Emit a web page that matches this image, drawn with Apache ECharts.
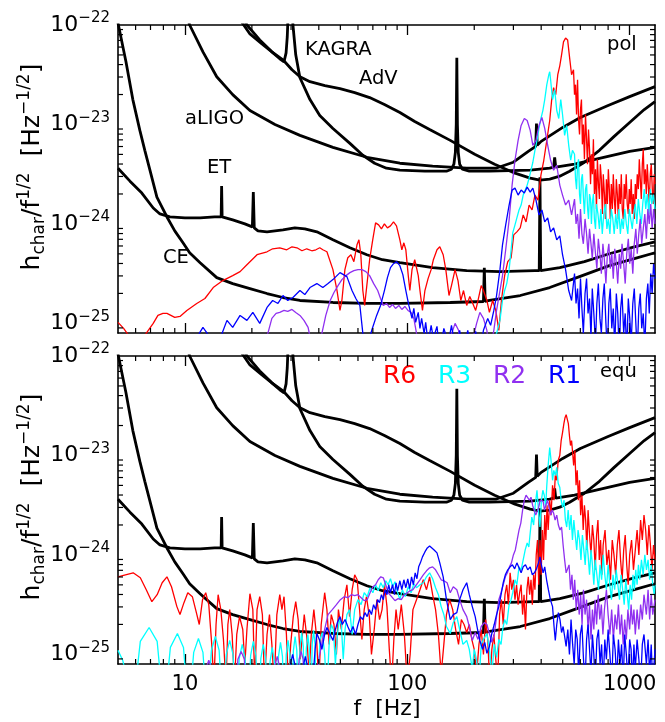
<!DOCTYPE html>
<html>
<head>
<meta charset="utf-8">
<script src="https://cdn.jsdelivr.net/npm/echarts@6/dist/echarts.min.js"></script>
<style>
html, body { margin: 0; padding: 0; background: #fff; }
#chart { width: 665px; height: 722px; }
</style>
</head>
<body>
<div id="chart"></div>
<script>
// Each point is [frequency in Hz, log10 of h_char/f^(1/2) in Hz^(-1/2)].

// Detector noise curves (same in both panels)
const ceCurve = [[5.0,-21.98],[5.43,-22.37],[5.83,-22.75],[6.27,-23.06],[6.6,-23.26],[6.96,-23.46],[7.48,-23.73],[8.3,-23.93],[9.0,-24.07],[9.8,-24.19],[10.5,-24.29],[11.7,-24.39],[13.9,-24.54],[16.4,-24.60],[19.6,-24.65],[23.4,-24.70],[27.6,-24.74],[32.9,-24.77],[46.3,-24.79],[65.8,-24.80],[92.6,-24.80],[156,-24.79],[220,-24.78],[222,-24.44],[224,-24.78],[234,-24.77],[322,-24.72],[437,-24.64],[595,-24.53],[810,-24.42],[1049,-24.35],[1300,-24.29]];
const etCurve = [[5.0,-23.44],[5.66,-23.57],[6.4,-23.69],[7.2,-23.84],[7.72,-23.90],[8.56,-23.93],[10,-23.94],[11.7,-23.94],[13.6,-23.93],[14.55,-23.93],[14.62,-23.62],[14.7,-23.93],[16.4,-23.96],[18.6,-24.0],[20.1,-24.03],[20.3,-23.68],[20.5,-24.04],[21.3,-24.07],[23.4,-24.08],[27.6,-24.06],[31.2,-24.04],[34.6,-24.05],[39.2,-24.08],[46.3,-24.16],[55.2,-24.24],[65.8,-24.31],[77.3,-24.36],[92.6,-24.39],[130,-24.44],[185,-24.47],[261,-24.48],[375,-24.47],[392,-24.47],[395,-23.53],[398,-24.47],[485,-24.44],[626,-24.38],[810,-24.30],[1049,-24.23],[1300,-24.18]];
const aligoCurve = [[9.9,-21.8],[10.5,-22.0],[12.05,-22.27],[13.9,-22.52],[16.4,-22.70],[19.6,-22.86],[25.4,-23.00],[32.9,-23.11],[46.3,-23.23],[65.8,-23.33],[92.6,-23.39],[130,-23.42],[185,-23.44],[250,-23.44],[300,-23.38],[350,-23.27],[378,-23.22],[381,-22.99],[384,-23.21],[400,-23.17],[500,-23.03],[600,-22.93],[800,-22.81],[1000,-22.72],[1300,-22.62]];
const kagraCurve = [[18.5,-21.95],[19.0,-22.0],[21.7,-22.15],[24.6,-22.27],[26.7,-22.34],[27.9,-22.37],[28.5,-22.28],[28.85,-22.12],[29.05,-21.95],[29.3,-21.6],[30.2,-21.8],[30.6,-22.0],[31.5,-22.3],[32.9,-22.53],[36.5,-22.75],[40.4,-22.91],[46.3,-23.04],[55.2,-23.19],[63.1,-23.31],[71.3,-23.39],[80.6,-23.44],[92.6,-23.46],[120,-23.47],[150,-23.47],[158,-23.45],[162,-23.40],[164.5,-23.28],[166,-23.0],[167,-22.33],[168,-23.0],[169.5,-23.28],[172,-23.40],[177,-23.45],[190,-23.47],[234,-23.47],[357,-23.46],[437,-23.44],[455,-23.43],[460,-23.33],[465,-23.43],[565,-23.40],[731,-23.34],[1000,-23.27],[1300,-23.23]];
const advCurve = [[18.0,-21.97],[19.6,-22.09],[22.2,-22.19],[24.6,-22.27],[27.6,-22.35],[30.3,-22.45],[32.9,-22.52],[36.5,-22.57],[42.6,-22.61],[49.8,-22.64],[58,-22.68],[67.7,-22.73],[78.9,-22.80],[92.6,-22.88],[108,-22.97],[126,-23.05],[156,-23.16],[201,-23.30],[247,-23.40],[305,-23.49],[357,-23.54],[395,-23.56],[437,-23.55],[485,-23.52],[537,-23.47],[626,-23.38],[731,-23.26],[852,-23.12],[1000,-22.98],[1163,-22.85],[1300,-22.77]];

// Polar ("pol") spectra
const r6Pol = [[5.0,-24.99],[5.3,-25.05],[5.7,-25.15],[6.1,-25.35],[6.6,-25.12],[7.2,-25.0],[7.56,-24.92],[7.96,-24.90],[8.3,-24.90],[9.0,-24.94],[9.5,-24.93],[10.2,-24.87],[11.3,-24.80],[12.3,-24.75],[13.4,-24.64],[14.8,-24.57],[16.4,-24.52],[17.7,-24.48],[19.0,-24.41],[21.1,-24.31],[23.4,-24.28],[24.8,-24.25],[26.7,-24.24],[28.7,-24.26],[30.3,-24.23],[31.9,-24.24],[33.6,-24.27],[35.3,-24.25],[37.2,-24.27],[38.8,-24.26],[40.4,-24.24],[41.7,-24.26],[43.5,-24.28],[46.3,-24.46],[48.3,-24.67],[49.8,-24.87],[50.8,-24.77],[52.4,-24.46],[54.0,-24.34],[55.8,-24.31],[57.5,-24.38],[59.4,-24.21],[60.6,-24.16],[61.8,-24.31],[63.1,-24.67],[64.3,-24.82],[67.7,-24.36],[69.9,-24.16],[72,-23.99],[74.3,-24.01],[76.5,-24.05],[78.9,-24.00],[81.4,-24.04],[84,-24.02],[86.7,-23.98],[89.4,-24.02],[92.6,-24.16],[94.5,-24.26],[96.5,-24.19],[98.5,-24.26],[101,-24.52],[102.7,-24.67],[105,-24.46],[108,-24.36],[112,-24.52],[114,-24.67],[117,-24.87],[120,-24.67],[124,-24.55],[128,-24.46],[131,-24.36],[136,-24.26],[140,-24.23],[145,-24.31],[149,-24.46],[154,-24.72],[158,-24.62],[164,-24.46],[169,-24.57],[174,-24.77],[179,-24.67],[185,-24.82],[191,-24.73],[197,-24.80],[203,-24.87],[208,-24.77],[215,-24.62],[220,-24.67],[228,-24.77],[234,-24.89],[242,-24.77],[250,-24.87],[258,-25.07],[265,-24.77],[274,-24.52],[283,-24.38],[293,-24.34],[301,-24.11],[311,-24.08],[322,-24.04],[332,-23.91],[342,-23.98],[353,-23.81],[364,-23.86],[375,-23.71],[387,-23.76],[399,-23.51],[411,-23.36],[424,-23.16],[437,-22.96],[446,-22.75],[455,-22.63],[465,-22.70],[475,-22.50],[485,-22.41],[494,-22.30],[504,-22.17],[515,-22.13],[526,-22.15],[537,-22.33],[548,-22.50],[559,-22.45],[565,-22.7],[571,-22.6],[577,-22.9],[583,-22.55],[589,-22.95],[595,-23.1],[601,-22.85],[607,-22.75],[613,-23.2],[619,-23.0],[626,-23.35],[633,-22.9],[640,-23.15],[646,-23.4],[653,-23.05],[660,-23.25],[667,-23.6],[673,-23.3],[680,-23.5],[687,-23.15],[694,-23.7],[702,-23.45],[709,-23.85],[716,-23.35],[724,-23.6],[731,-23.75],[738,-23.4],[746,-23.55],[754,-23.9],[761,-23.5],[770,-23.7],[778,-23.95],[786,-23.55],[794,-23.8],[802,-23.45],[810,-23.65],[818,-23.95],[827,-23.6],[836,-23.85],[844,-23.5],[853,-23.75],[862,-23.9],[871,-23.55],[880,-23.7],[889,-23.95],[898,-23.6],[908,-23.8],[917,-23.5],[926,-23.85],[936,-23.95],[945,-23.6],[955,-23.75],[965,-23.5],[975,-23.8],[986,-23.9],[996,-23.65],[1006,-23.8],[1016,-23.55],[1027,-23.9],[1038,-23.7],[1049,-23.95],[1060,-23.6],[1071,-23.75],[1082,-23.5],[1094,-23.65],[1105,-23.35],[1116,-23.55],[1128,-23.75],[1140,-23.4],[1151,-23.25],[1163,-23.6],[1176,-23.45],[1188,-23.7],[1200,-23.4],[1212,-23.6],[1225,-23.8],[1238,-23.5],[1251,-23.4],[1264,-23.65],[1277,-23.8],[1290,-23.5],[1300,-23.6]];
const r3Pol = [[200,-25.5],[240,-25.3],[247,-25.15],[252,-25.10],[261,-24.97],[268,-24.77],[274,-24.67],[280,-24.60],[287,-24.46],[293,-24.26],[298,-24.09],[305,-24.01],[311,-23.94],[318,-23.86],[325,-23.81],[332,-23.71],[339,-23.66],[346,-23.61],[353,-23.54],[360,-23.46],[367,-23.38],[375,-23.26],[383,-23.16],[391,-23.04],[399,-22.94],[407,-22.86],[415,-22.75],[424,-22.60],[433,-22.50],[437,-22.47],[441,-22.55],[450,-22.75],[460,-22.65],[470,-22.86],[480,-22.94],[490,-22.75],[499,-22.90],[510,-23.11],[521,-23.01],[532,-23.21],[543,-23.36],[553,-23.26],[565,-23.3],[571,-23.55],[577,-23.65],[583,-23.4],[589,-23.35],[595,-23.7],[601,-23.8],[607,-23.55],[613,-23.5],[620,-23.75],[626,-23.9],[633,-23.65],[640,-23.6],[647,-23.85],[653,-23.95],[660,-23.7],[667,-23.75],[673,-24.0],[679,-23.8],[687,-23.7],[694,-23.95],[702,-24.05],[709,-23.8],[720,-23.9],[731,-24.05],[742,-23.85],[753,-24.1],[765,-23.9],[778,-23.8],[790,-24.05],[802,-23.95],[815,-24.1],[827,-23.85],[840,-23.95],[852,-24.1],[866,-23.9],[880,-24.05],[894,-23.85],[908,-24.1],[922,-23.95],[936,-24.05],[951,-23.85],[966,-24.0],[981,-24.1],[996,-23.85],[1011,-23.95],[1027,-24.05],[1043,-23.9],[1060,-23.8],[1077,-24.0],[1094,-23.75],[1111,-23.9],[1128,-24.0],[1145,-23.8],[1163,-23.65],[1181,-23.85],[1200,-23.7],[1219,-23.9],[1238,-23.65],[1257,-23.8],[1277,-23.7],[1300,-23.85]];
const r2Pol = [[22.2,-25.3],[23.6,-25.10],[24.6,-24.95],[25.7,-24.90],[26.7,-24.89],[27.9,-24.87],[29.0,-24.88],[30.3,-24.86],[31.5,-24.89],[32.9,-24.92],[34.3,-24.97],[35.8,-25.04],[37,-25.2],[39.6,-25.3],[41.3,-25.10],[43.0,-24.92],[45,-24.77],[46.8,-24.69],[48.8,-24.62],[50.8,-24.56],[53,-24.52],[55.2,-24.49],[57.5,-24.47],[60,-24.46],[62.5,-24.46],[65.1,-24.48],[67.7,-24.52],[70.6,-24.60],[73.6,-24.67],[75.8,-24.75],[78,-24.82],[80.6,-24.80],[83.2,-24.84],[85.8,-24.81],[88.5,-24.85],[91.6,-24.82],[94.5,-24.86],[97.5,-24.83],[100.7,-24.87],[104,-24.89],[107,-24.95],[110,-25.10],[114,-25.3],[140,-25.3],[156,-25.15],[164,-25.0],[170,-25.07],[177,-25.3],[195,-25.2],[205,-25.0],[212,-24.89],[220,-24.95],[228,-25.07],[234,-25.3],[245,-25.07],[252,-24.87],[261,-24.67],[268,-24.52],[277,-24.26],[287,-23.96],[296,-23.61],[305,-23.36],[315,-23.16],[325,-23.01],[336,-22.94],[346,-22.96],[357,-23.06],[367,-23.21],[379,-23.16],[391,-23.01],[403,-22.93],[415,-23.04],[428,-23.21],[441,-23.36],[455,-23.46],[470,-23.41],[485,-23.61],[499,-23.71],[515,-23.81],[532,-23.76],[548,-23.91],[565,-23.75],[574,-24.0],[583,-23.9],[592,-24.15],[601,-23.85],[610,-24.1],[619,-24.2],[630,-23.95],[640,-24.1],[650,-24.3],[660,-24.05],[670,-24.2],[679,-24.35],[690,-24.1],[702,-24.3],[712,-24.45],[723,-24.15],[735,-24.3],[746,-24.5],[758,-24.2],[769,-24.35],[782,-24.6],[794,-24.3],[806,-24.2],[818,-24.45],[831,-24.3],[844,-24.55],[857,-24.25],[871,-24.4],[884,-24.6],[898,-24.3],[911,-24.45],[924,-24.2],[940,-24.4],[955,-24.6],[970,-24.3],[986,-24.15],[1001,-24.4],[1016,-24.25],[1033,-24.5],[1049,-24.2],[1066,-24.05],[1082,-24.3],[1099,-24.1],[1116,-23.95],[1133,-24.2],[1151,-24.05],[1170,-23.9],[1189,-24.15],[1207,-23.85],[1225,-24.0],[1244,-23.8],[1262,-24.05],[1281,-23.85],[1300,-24.0]];
const r1Pol = [[11.1,-25.3],[11.6,-25.10],[12.05,-25.04],[12.6,-25.10],[13,-25.3],[14.1,-25.3],[14.7,-25.10],[15.45,-24.97],[16.4,-25.04],[17.7,-24.92],[19.0,-24.97],[20.2,-24.89],[21.7,-25.0],[23.4,-24.84],[24.8,-24.77],[26.2,-24.80],[27.6,-24.72],[29,-24.77],[30.6,-24.74],[32.9,-24.67],[34.6,-24.71],[36.5,-24.64],[39.2,-24.60],[41.7,-24.64],[44,-24.60],[46.3,-24.56],[49.8,-24.49],[53.5,-24.53],[56.4,-24.67],[58.7,-24.75],[61.2,-24.82],[63.1,-25.10],[64.3,-25.3],[69.2,-25.07],[72.8,-24.92],[75.8,-24.82],[78.9,-24.67],[81.4,-24.54],[84,-24.44],[86.7,-24.40],[89.4,-24.38],[92.6,-24.42],[95.5,-24.51],[98.5,-24.67],[101.6,-24.82],[105,-24.95],[107,-24.85],[109,-24.99],[112,-24.89],[114,-25.05],[116,-24.95],[119,-25.10],[121,-24.99],[124,-25.2],[128,-25.02],[131,-25.15],[136,-25.03],[140,-25.3],[146,-25.05],[153,-25.2],[158,-25.02],[166,-25.3],[172,-25.07],[179,-25.3],[187,-25.07],[195,-25.3],[203,-25.08],[212,-25.3],[220,-25.07],[230,-24.95],[237,-25.02],[245,-24.87],[252,-24.72],[261,-24.46],[268,-24.21],[277,-24.01],[287,-23.81],[296,-23.66],[305,-23.64],[315,-23.71],[325,-23.66],[336,-23.69],[346,-23.63],[357,-23.68],[367,-23.64],[379,-23.76],[391,-23.91],[403,-23.86],[415,-23.98],[428,-23.94],[441,-24.08],[455,-24.04],[470,-24.16],[485,-24.12],[499,-24.31],[515,-24.46],[532,-24.67],[548,-24.77],[565,-24.5],[574,-24.8],[583,-24.65],[592,-24.95],[601,-24.55],[610,-24.85],[619,-25.1],[630,-24.7],[640,-24.55],[650,-24.9],[660,-24.75],[670,-25.15],[679,-24.65],[690,-24.9],[702,-25.2],[712,-24.8],[723,-24.6],[735,-24.95],[746,-25.1],[758,-24.75],[769,-24.6],[782,-25.0],[794,-25.3],[806,-24.8],[818,-24.65],[831,-25.05],[844,-24.85],[857,-25.25],[871,-24.7],[884,-24.9],[898,-25.3],[911,-24.85],[924,-24.7],[940,-25.1],[955,-24.9],[970,-25.3],[986,-24.75],[1001,-24.95],[1016,-25.2],[1033,-24.8],[1049,-24.65],[1066,-25.0],[1082,-25.3],[1099,-24.85],[1116,-24.7],[1133,-25.05],[1151,-24.9],[1170,-25.25],[1189,-24.75],[1207,-24.6],[1225,-24.9],[1244,-24.5],[1262,-24.7],[1281,-24.4],[1300,-24.55]];

// Equatorial ("equ") spectra
const r6Equ = [[5.0,-24.22],[5.4,-24.20],[5.85,-24.18],[6.3,-24.23],[6.7,-24.35],[7.1,-24.47],[7.5,-24.40],[7.9,-24.28],[8.3,-24.22],[8.7,-24.32],[9.2,-24.52],[9.5,-24.60],[9.9,-24.48],[10.3,-24.38],[10.8,-24.42],[11.2,-24.56],[11.6,-24.70],[12.0,-24.45],[12.4,-24.38],[12.8,-24.50],[13.2,-24.90],[13.5,-25.3],[13.8,-24.70],[14.1,-24.40],[14.5,-24.55],[14.9,-24.85],[15.3,-25.3],[15.6,-24.70],[15.9,-24.55],[16.3,-24.80],[16.7,-25.3],[17.1,-24.8],[17.6,-24.62],[18.2,-24.75],[18.6,-25.1],[19.0,-24.75],[19.6,-24.39],[20.2,-24.55],[20.6,-25.3],[21.1,-24.55],[21.7,-24.42],[22.3,-24.6],[22.8,-25.3],[23.4,-24.8],[24.0,-24.60],[24.6,-24.9],[25.2,-25.3],[25.9,-24.6],[26.7,-24.40],[27.3,-24.55],[27.9,-24.42],[28.6,-24.8],[29.2,-25.3],[29.9,-24.9],[30.7,-24.62],[31.5,-24.47],[32.3,-24.65],[33,-25.05],[33.6,-24.85],[34.4,-24.6],[35.3,-24.82],[36.2,-25.2],[37.0,-24.80],[38,-24.55],[39,-24.8],[40,-25.3],[41,-24.7],[42.5,-24.38],[43.5,-24.55],[44.5,-24.9],[45.5,-24.6],[46.8,-24.70],[48,-25.0],[49,-24.55],[50.5,-24.75],[52,-24.45],[53.5,-24.30],[55,-24.62],[56.5,-24.35],[58,-24.20],[59.5,-24.25],[61,-24.55],[62.5,-24.85],[64,-24.55],[65.5,-24.42],[67.5,-24.62],[69,-25.0],[71,-24.75],[73,-24.45],[75,-24.65],[77,-24.55],[79,-24.30],[81,-24.52],[83,-24.95],[85,-25.3],[87,-24.85],[89,-24.55],[91,-24.75],[94,-24.5],[97,-24.8],[100,-25.3],[103,-25.0],[106,-24.55],[110,-24.45],[114,-24.35],[118,-24.25],[122,-24.35],[126,-24.22],[130,-24.40],[134,-24.55],[138,-24.80],[142,-25.2],[146,-24.9],[150,-24.60],[155,-24.45],[160,-24.55],[165,-24.75],[170,-24.9],[175,-24.65],[180,-24.70],[185,-24.78],[190,-24.7],[195,-24.85],[200,-24.95],[205,-25.2],[210,-24.9],[215,-24.75],[220,-25.0],[225,-24.65],[230,-24.85],[235,-25.3],[240,-24.95],[245,-24.8],[250,-25.05],[255,-25.3],[260,-24.6],[265,-24.45],[270,-24.7],[275,-24.4],[280,-24.3],[285,-24.5],[290,-24.18],[295,-24.35],[300,-24.25],[305,-24.45],[310,-24.3],[315,-24.5],[320,-24.38],[325,-24.3],[330,-24.6],[335,-24.4],[340,-24.75],[345,-24.35],[350,-24.22],[355,-24.4],[360,-24.25],[365,-24.5],[370,-24.2],[375,-24.35],[380,-24.0],[385,-23.85],[390,-24.3],[395,-23.85],[400,-24.2],[405,-23.75],[410,-24.05],[415,-23.6],[420,-23.85],[425,-23.5],[430,-23.75],[437,-23.45],[443,-23.6],[450,-23.3],[457,-23.45],[463,-23.2],[470,-23.25],[477,-23.05],[485,-23.0],[492,-22.85],[499,-22.77],[506,-22.68],[512,-22.62],[518,-22.59],[524,-22.60],[530,-22.68],[536,-22.8],[542,-22.9],[548,-22.85],[553,-22.95],[560,-23.1],[567,-22.95],[574,-23.3],[581,-23.15],[588,-23.45],[595,-23.25],[602,-23.6],[610,-23.4],[618,-23.75],[626,-23.5],[634,-23.65],[642,-23.95],[650,-23.55],[660,-23.8],[670,-24.0],[680,-23.7],[690,-23.85],[700,-24.15],[710,-23.8],[720,-23.65],[730,-24.05],[740,-23.85],[750,-24.2],[760,-23.9],[775,-23.75],[790,-24.1],[805,-23.95],[820,-24.25],[835,-23.85],[850,-24.0],[865,-24.2],[880,-23.9],[895,-23.75],[910,-24.05],[925,-24.25],[940,-23.95],[955,-23.8],[970,-24.1],[985,-24.3],[1000,-24.0],[1020,-23.85],[1040,-24.15],[1060,-23.95],[1080,-23.75],[1100,-24.0],[1120,-23.65],[1140,-23.85],[1160,-23.6],[1180,-23.75],[1200,-24.0],[1220,-23.7],[1240,-23.9],[1260,-24.15],[1280,-23.9],[1300,-24.05]];
const r3Equ = [[5.0,-24.96],[5.25,-25.06],[5.5,-25.25],[5.8,-25.6],[6.3,-24.87],[6.9,-24.73],[7.5,-24.87],[8.05,-25.6],[8.6,-24.93],[9.25,-24.79],[9.85,-24.93],[10.4,-25.6],[10.95,-24.98],[11.5,-24.84],[12.05,-24.98],[12.6,-25.6],[13.15,-24.96],[13.7,-24.82],[14.25,-24.96],[14.8,-25.6],[15.35,-25.0],[15.9,-24.86],[16.45,-25.0],[17.0,-25.6],[17.55,-25.04],[18.1,-24.9],[18.65,-25.04],[19.2,-25.6],[19.75,-25.01],[20.3,-24.87],[20.85,-25.01],[21.4,-25.6],[21.95,-25.04],[22.5,-24.9],[23.05,-25.04],[23.6,-25.6],[24.15,-25.07],[24.7,-24.93],[25.25,-25.07],[25.8,-25.6],[26.35,-25.02],[26.9,-24.88],[27.45,-25.02],[28.0,-25.6],[28.55,-25.0],[29.1,-24.86],[29.65,-25.0],[30.2,-25.6],[30.75,-24.96],[31.3,-24.82],[31.85,-24.96],[32.4,-25.6],[32.95,-24.92],[33.5,-24.78],[34.05,-24.92],[34.6,-25.6],[35.15,-24.94],[35.7,-24.8],[36.25,-24.94],[36.8,-25.6],[37.35,-24.9],[37.9,-24.76],[38.45,-24.9],[39.0,-25.6],[40.5,-24.85],[41.5,-24.78],[42.5,-25.0],[43.5,-25.4],[44.5,-24.9],[45.5,-24.7],[46.5,-24.75],[47.5,-25.1],[48.5,-24.8],[49.5,-24.65],[50.5,-24.7],[51.5,-25.05],[52.5,-24.75],[53.5,-24.6],[55,-24.55],[56.5,-24.8],[58,-24.55],[60,-24.45],[62,-24.5],[64,-24.38],[66,-24.42],[68,-24.33],[70,-24.38],[72,-24.3],[74,-24.36],[76,-24.28],[78,-24.33],[80,-24.26],[82,-24.3],[84,-24.24],[86,-24.32],[88,-24.27],[90,-24.36],[92.6,-24.45],[95,-24.35],[98,-24.42],[101,-24.32],[104,-24.38],[107,-24.29],[110,-24.33],[114,-24.30],[118,-24.28],[122,-24.22],[126,-24.18],[130,-24.24],[134,-24.33],[138,-24.4],[142,-24.52],[146,-24.6],[150,-24.72],[156,-24.79],[161,-24.68],[167,-24.62],[172,-24.75],[178,-24.9],[185,-24.86],[190,-24.95],[196,-25.15],[200,-24.95],[205,-25.06],[210,-25.3],[215,-24.9],[220,-24.85],[228,-24.79],[234,-24.95],[240,-25.2],[246,-24.9],[252,-25.03],[258,-24.85],[264,-24.9],[268,-24.76],[274,-24.65],[280,-24.7],[287,-24.5],[293,-24.45],[298,-24.38],[305,-24.25],[311,-24.3],[318,-24.12],[325,-24.15],[332,-24.05],[339,-23.95],[346,-23.88],[352,-23.92],[357,-23.78],[363,-23.62],[370,-23.7],[376,-23.5],[383,-23.35],[389,-23.55],[395,-23.72],[401,-23.45],[407,-23.35],[413,-23.4],[419,-23.52],[424,-23.3],[430,-23.1],[437,-22.92],[443,-23.05],[450,-23.25],[456,-23.15],[463,-23.2],[470,-23.12],[477,-23.28],[485,-23.32],[492,-23.45],[499,-23.52],[507,-23.45],[514,-23.65],[521,-23.72],[529,-23.55],[537,-23.75],[545,-23.6],[553,-23.85],[561,-23.65],[569,-23.8],[578,-23.95],[586,-23.75],[595,-23.85],[604,-24.05],[613,-23.8],[622,-23.95],[631,-24.1],[640,-23.85],[650,-24.0],[660,-24.2],[670,-23.95],[680,-24.1],[690,-24.3],[700,-24.05],[712,-24.2],[724,-24.35],[736,-24.1],[748,-24.25],[760,-24.0],[773,-24.2],[786,-24.35],[800,-24.1],[814,-24.3],[828,-24.45],[842,-24.2],[856,-24.35],[870,-24.15],[885,-24.3],[900,-24.45],[915,-24.2],[930,-24.35],[945,-24.5],[960,-24.25],[975,-24.4],[990,-24.55],[1005,-24.3],[1020,-24.45],[1035,-24.2],[1050,-24.35],[1065,-24.15],[1080,-24.3],[1095,-24.1],[1110,-24.25],[1130,-24.05],[1150,-24.2],[1170,-24.0],[1190,-24.15],[1210,-24.05],[1230,-24.25],[1250,-24.1],[1270,-24.3],[1290,-24.4],[1300,-24.3]];
const r2Equ = [[5,-25.6],[12.0,-25.6],[12.4,-25.15],[12.8,-25.06],[13.2,-25.15],[13.6,-25.6],[16.8,-25.6],[17.3,-25.05],[17.9,-24.97],[18.5,-25.05],[19.0,-25.6],[25.0,-25.6],[25.5,-25.1],[26.0,-25.02],[26.5,-25.1],[27.0,-25.6],[32.0,-25.6],[32.6,-25.05],[33.3,-24.97],[34.0,-25.05],[34.6,-25.6],[38,-25.6],[40,-25.05],[42,-24.8],[44,-24.6],[46,-24.55],[48,-24.5],[50,-24.45],[52,-24.42],[54,-24.43],[56,-24.40],[58,-24.41],[60,-24.40],[62,-24.43],[64,-24.46],[66,-24.45],[68,-24.38],[70,-24.32],[72,-24.3],[74,-24.25],[76,-24.22],[78,-24.23],[80,-24.3],[82,-24.38],[85,-24.42],[88,-24.46],[91,-24.44],[94,-24.45],[97,-24.4],[100,-24.38],[103,-24.36],[106,-24.35],[110,-24.3],[114,-24.25],[118,-24.2],[122,-24.16],[126,-24.13],[130,-24.12],[134,-24.15],[138,-24.2],[142,-24.25],[146,-24.26],[151,-24.28],[156,-24.38],[161,-24.32],[167,-24.35],[172,-24.45],[178,-24.55],[185,-24.62],[190,-24.72],[196,-24.86],[202,-24.78],[208,-24.85],[215,-24.72],[222,-24.68],[228,-24.7],[234,-24.79],[240,-24.88],[246,-24.8],[252,-24.62],[258,-24.45],[264,-24.38],[270,-24.3],[276,-24.22],[282,-24.18],[288,-24.12],[294,-24.08],[300,-24.0],[306,-23.95],[312,-23.85],[318,-23.75],[324,-23.68],[330,-23.55],[336,-23.45],[342,-23.40],[348,-23.41],[354,-23.45],[360,-23.42],[366,-23.5],[372,-23.55],[378,-23.6],[384,-23.62],[390,-23.52],[396,-23.45],[402,-23.43],[408,-23.46],[414,-23.55],[420,-23.5],[427,-23.45],[434,-23.52],[441,-23.6],[448,-23.55],[455,-23.58],[462,-23.65],[470,-23.6],[478,-23.7],[486,-23.75],[494,-23.72],[502,-23.9],[510,-24.05],[518,-24.18],[526,-24.2],[534,-24.1],[542,-24.35],[550,-24.2],[558,-24.45],[566,-24.25],[575,-24.55],[584,-24.35],[593,-24.6],[602,-24.4],[611,-24.7],[620,-24.35],[630,-24.6],[640,-24.45],[650,-24.75],[660,-24.5],[670,-24.85],[680,-24.55],[690,-24.75],[700,-24.45],[710,-24.7],[722,-24.4],[734,-24.65],[746,-24.5],[758,-24.8],[770,-24.55],[786,-24.35],[800,-24.6],[815,-24.8],[830,-24.55],[845,-24.85],[860,-24.6],[875,-24.75],[890,-24.5],[905,-24.8],[920,-24.6],[935,-24.9],[950,-24.65],[966,-24.85],[982,-24.55],[1000,-24.75],[1015,-24.5],[1030,-24.7],[1045,-24.55],[1060,-24.8],[1080,-24.55],[1100,-24.75],[1120,-24.5],[1140,-24.65],[1160,-24.4],[1189,-24.6],[1210,-24.35],[1230,-24.65],[1250,-24.4],[1270,-24.6],[1300,-24.45]];
const r1Equ = [[5,-25.6],[29,-25.6],[29.8,-25.1],[30.5,-25.0],[31.2,-25.1],[32,-25.6],[33.5,-25.6],[34.2,-25.1],[34.8,-25.02],[35.4,-25.1],[36,-25.6],[37.5,-25.3],[38.5,-24.95],[39.2,-24.79],[40.2,-24.85],[41.3,-24.95],[42.5,-24.8],[43.5,-24.73],[45,-24.8],[46.3,-24.86],[47.5,-24.75],[48.5,-24.68],[49.8,-24.62],[51,-24.7],[52.5,-24.65],[54,-24.72],[55.5,-24.78],[57,-24.72],[58.5,-24.8],[60,-24.7],[61.5,-24.62],[63,-24.65],[64.5,-24.58],[66,-24.62],[67.5,-24.55],[69,-24.6],[70.5,-24.5],[72,-24.55],[73.5,-24.45],[75,-24.48],[76.5,-24.4],[78,-24.45],[79.5,-24.35],[81,-24.4],[82.5,-24.3],[84,-24.38],[85.8,-24.3],[87.5,-24.4],[89,-24.28],[90.5,-24.36],[92.6,-24.26],[94.5,-24.35],[96.5,-24.25],[98.5,-24.33],[100.5,-24.24],[102.5,-24.34],[104.5,-24.22],[106.5,-24.3],[108.5,-24.18],[110.5,-24.24],[112.5,-24.12],[114.5,-24.08],[117,-24.02],[120,-23.97],[123,-23.93],[126,-23.91],[129,-23.93],[132,-23.95],[136,-23.98],[140,-24.08],[145,-24.22],[150,-24.45],[156,-24.65],[161,-24.6],[167,-24.58],[172,-24.45],[178,-24.35],[185,-24.28],[190,-24.4],[196,-24.52],[202,-24.62],[207,-24.75],[212,-24.86],[218,-24.95],[223,-24.88],[228,-24.99],[234,-24.92],[240,-24.79],[246,-24.7],[252,-24.6],[258,-24.52],[264,-24.4],[270,-24.28],[276,-24.2],[283,-24.15],[290,-24.12],[297,-24.1],[304,-24.14],[311,-24.08],[318,-24.13],[325,-24.18],[332,-24.12],[340,-24.1],[348,-24.15],[357,-24.12],[365,-24.2],[373,-24.18],[381,-24.14],[389,-24.08],[395,-24.02],[401,-24.1],[408,-24.18],[415,-24.12],[423,-24.25],[431,-24.35],[440,-24.45],[450,-24.52],[457,-24.72],[463,-24.86],[470,-24.7],[478,-24.58],[486,-24.65],[494,-24.78],[502,-24.72],[510,-24.82],[518,-24.92],[527,-24.75],[536,-25.0],[545,-24.65],[554,-24.9],[563,-25.1],[572,-24.75],[581,-24.85],[590,-25.2],[600,-24.8],[610,-24.7],[620,-25.05],[630,-25.3],[640,-24.85],[650,-24.7],[660,-24.95],[670,-25.2],[680,-24.8],[690,-25.0],[700,-25.3],[712,-24.85],[724,-24.75],[736,-25.1],[748,-24.9],[760,-25.3],[773,-24.85],[786,-25.05],[800,-24.75],[815,-25.0],[830,-25.3],[845,-24.8],[860,-24.95],[875,-25.25],[890,-24.85],[905,-25.1],[920,-24.9],[935,-25.3],[950,-24.8],[966,-25.0],[982,-25.25],[1000,-24.85],[1015,-24.95],[1030,-25.3],[1045,-24.9],[1060,-25.15],[1080,-24.85],[1100,-25.05],[1120,-25.3],[1140,-24.9],[1160,-24.8],[1189,-25.1],[1210,-24.85],[1230,-25.2],[1250,-24.9],[1270,-25.3],[1300,-24.95]];

// Axis labels
const xTickLabels = [10, 100, 1000];
const yTickExponents = [-25, -24, -23, -22];
const runNames = ['R6', 'R3', 'R2', 'R1'];
const runColors = ['#ff0000', '#00ffff', '#9030f0', '#0000ff'];

const F_MIN = 5, F_MAX = 1300, H_MIN = 8e-26, H_MAX = 1e-22;
const FONT = 'DejaVu Sans';

const toPoints = arr => arr.map(([f, e]) => [f, Math.pow(10, e)]);
const yTickValues = yTickExponents.map(e => Math.pow(10, e));

// Minor ticks at 2..9 times each power of ten (drawn with a custom series)
const minorTickItems = [];
for (let d = 0; d <= 3; d++) {
  for (let k = 2; k <= 9; k++) {
    const f = k * Math.pow(10, d);
    if (f > F_MIN && f < F_MAX) minorTickItems.push([f, 1e-24, 0]);
  }
}
for (let d = -26; d <= -23; d++) {
  for (let k = 2; k <= 9; k++) {
    const h = k * Math.pow(10, d);
    if (h > H_MIN && h < H_MAX) minorTickItems.push([10, h, 1]);
  }
}

function isDecade(v) {
  const l = Math.log10(v);
  return Math.abs(l - Math.round(l)) < 1e-6;
}

function xAxisDef(gridIndex, position, showLabels) {
  return {
    type: 'log', logBase: 10, gridIndex, position, min: F_MIN, max: F_MAX,
    axisLine: { show: true, onZero: false, lineStyle: { color: '#000', width: 1.6 } },
    axisTick: { show: true, inside: true, length: 10, customValues: xTickLabels,
      lineStyle: { color: '#000', width: 1.3 } },
    axisLabel: { show: showLabels, customValues: xTickLabels, margin: 10,
      formatter: v => isDecade(v) ? String(Math.round(v)) : '',
      fontFamily: FONT, fontSize: 21, color: '#000' },
    splitLine: { show: false }, minorTick: { show: false }
  };
}

function yAxisDef(gridIndex, position) {
  return {
    type: 'log', logBase: 10, gridIndex, position, min: H_MIN, max: H_MAX,
    axisLine: { show: true, onZero: false, lineStyle: { color: '#000', width: 1.6 } },
    axisTick: { show: true, inside: true, length: 10, customValues: yTickValues,
      lineStyle: { color: '#000', width: 1.3 } },
    axisLabel: { show: false },
    splitLine: { show: false }, minorTick: { show: false }
  };
}

function tickLine(x1, y1, x2, y2) {
  return { type: 'line', shape: { x1, y1, x2, y2 }, style: { stroke: '#000', lineWidth: 1.2 } };
}

function minorTickSeries(xi, yi) {
  return {
    type: 'custom', xAxisIndex: xi, yAxisIndex: yi, silent: true, z: 10, clip: false,
    data: minorTickItems,
    renderItem: (params, api) => {
      const kind = api.value(2);
      if (kind === 0) {
        const f = api.value(0);
        const b = api.coord([f, H_MIN]), t = api.coord([f, H_MAX]);
        return { type: 'group', children: [tickLine(b[0], b[1], b[0], b[1] - 5), tickLine(t[0], t[1], t[0], t[1] + 5)] };
      }
      const h = api.value(1);
      const l = api.coord([F_MIN, h]), r = api.coord([F_MAX, h]);
      return { type: 'group', children: [tickLine(l[0], l[1], l[0] + 5, l[1]), tickLine(r[0], r[1], r[0] - 5, r[1])] };
    }
  };
}

// Power-of-ten labels on the left axis, placed through the axis scale
const yLabelRich = {
  b: { fontFamily: FONT, fontSize: 22, lineHeight: 28, fill: '#000' },
  s: { fontFamily: FONT, fontSize: 15, lineHeight: 14, verticalAlign: 'top', fill: '#000' }
};
function yLabelSeries(xi, yi) {
  return {
    type: 'custom', xAxisIndex: xi, yAxisIndex: yi, silent: true, z: 10, clip: false,
    data: yTickExponents.map(e => [F_MIN, Math.pow(10, e), e]),
    renderItem: (params, api) => {
      const p = api.coord([api.value(0), api.value(1)]);
      const e = api.value(2);
      return { type: 'text', x: p[0] - 8, y: p[1],
        style: { text: '{b|10}{s|\u2212' + Math.abs(e) + '}', rich: yLabelRich, align: 'right', verticalAlign: 'middle' } };
    }
  };
}

const detectorCurves = [ceCurve, etCurve, aligoCurve, kagraCurve, advCurve];

function panelSeries(xi, yi, runs) {
  const list = detectorCurves.map(c => ({
    type: 'line', xAxisIndex: xi, yAxisIndex: yi, data: toPoints(c),
    symbol: 'none', clip: true, silent: true,
    lineStyle: { color: '#000', width: 2.8 }
  }));
  runs.forEach((arr, i) => list.push({
    type: 'line', name: runNames[i], xAxisIndex: xi, yAxisIndex: yi, data: toPoints(arr),
    symbol: 'none', clip: true, silent: true,
    lineStyle: { color: runColors[i], width: 1.3 }
  }));
  list.push(minorTickSeries(xi, yi));
  list.push(yLabelSeries(xi, yi));
  return list;
}

function label(text, x, y, size, color, align) {
  return { type: 'text', x, y, silent: true,
    style: { text, fill: color || '#000', font: size + 'px "' + FONT + '"', align: align || 'left', verticalAlign: 'middle' } };
}

const yTitle = '{i|h}{sub|char}{i|/f}{sup|1/2}{i|  [Hz}{sup|\u22121/2}{i|]}';
const yTitleRich = {
  i: { fontFamily: FONT, fontSize: 25, lineHeight: 32, fill: '#000' },
  sub: { fontFamily: FONT, fontSize: 17, lineHeight: 17, verticalAlign: 'bottom', fill: '#000' },
  sup: { fontFamily: FONT, fontSize: 17, lineHeight: 17, verticalAlign: 'top', fill: '#000' }
};
function yTitleGraphic(cy) {
  return { type: 'text', x: 32, y: cy, rotation: Math.PI / 2, silent: true,
    style: { text: yTitle, rich: yTitleRich, align: 'center', verticalAlign: 'middle' } };
}

const runLabelX = [383, 438, 493, 548];

const option = {
  animation: false,
  backgroundColor: '#fff',
  grid: [
    { left: 118, top: 25, width: 537, height: 308 },
    { left: 118, top: 356, width: 537, height: 308 }
  ],
  xAxis: [xAxisDef(0, 'bottom', false), xAxisDef(0, 'top', false), xAxisDef(1, 'bottom', true), xAxisDef(1, 'top', false)],
  yAxis: [yAxisDef(0, 'left'), yAxisDef(0, 'right'), yAxisDef(1, 'left'), yAxisDef(1, 'right')],
  series: [
    ...panelSeries(0, 0, [r6Pol, r3Pol, r2Pol, r1Pol]),
    ...panelSeries(2, 2, [r6Equ, r3Equ, r2Equ, r1Equ])
  ],
  graphic: [
    yTitleGraphic(167),
    yTitleGraphic(497),
    label('f  [Hz]', 387, 709, 22, '#000', 'center'),
    label('KAGRA', 305, 50, 19.5),
    label('AdV', 359, 79, 19.5),
    label('aLIGO', 185, 119, 19.5),
    label('ET', 207, 167.5, 19.5),
    label('CE', 163, 257.5, 19.5),
    label('pol', 607, 45, 19.5),
    label('equ', 600, 372, 19.5),
    ...runNames.map((n, i) => label(n, runLabelX[i], 376, 25, runColors[i]))
  ]
};

const chart = echarts.init(document.getElementById('chart'));
chart.setOption(option);
</script>
</body>
</html>
